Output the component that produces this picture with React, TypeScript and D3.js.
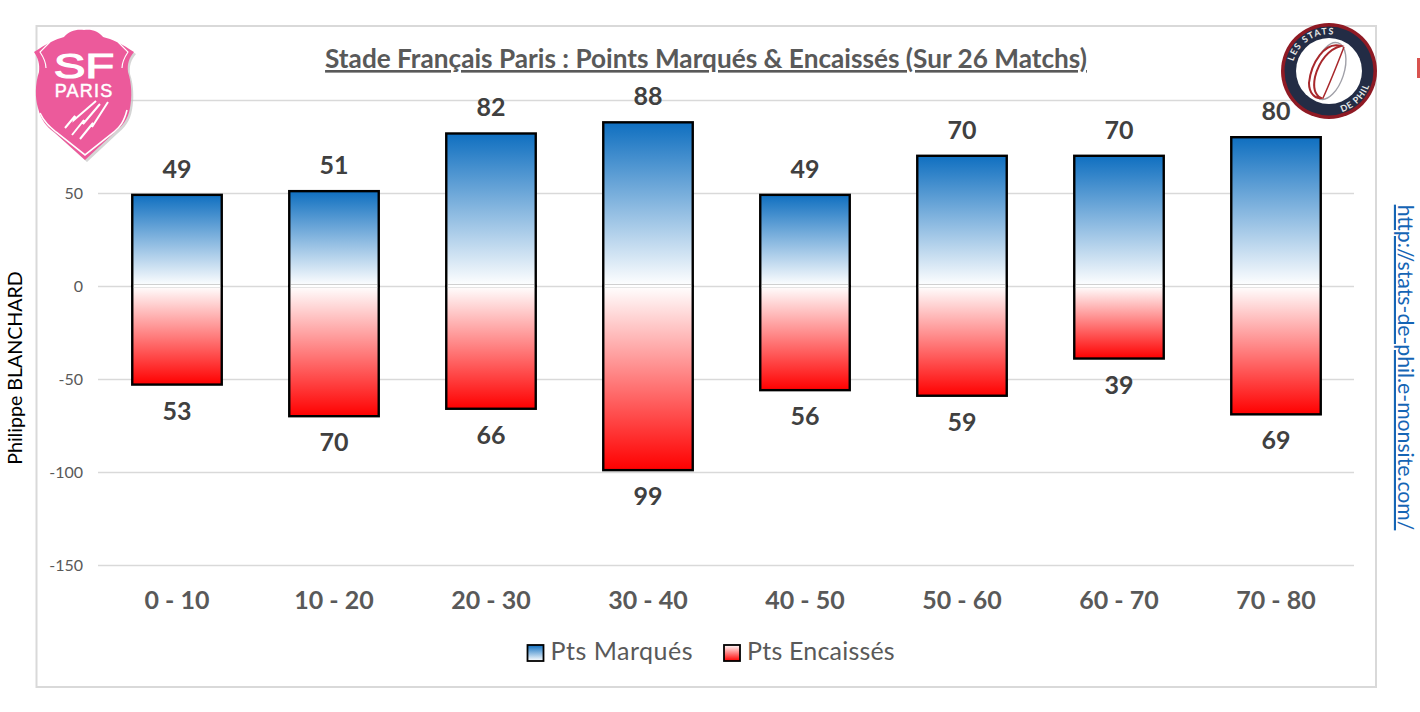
import React, { useEffect, useRef } from 'react';
import * as d3 from 'd3';

const categories = ['0 - 10', '10 - 20', '20 - 30', '30 - 40', '40 - 50', '50 - 60', '60 - 70', '70 - 80'];
const ptsMarques = [49, 51, 82, 88, 49, 70, 70, 80];
const ptsEncaisses = [53, 70, 66, 99, 56, 59, 39, 69];
const yTicks = [-150, -100, -50, 0, 50, 100];
const yTickLabels = ['-150', '-100', '-50', '0', '50', ''];

const font = 'Lato, "Open Sans", sans-serif';

export default function App() {
    const ref = useRef<SVGSVGElement | null>(null);
    useEffect(() => {
        const svg = d3.select(ref.current);
        svg.selectAll('*').remove();
        const width = 1420, height = 712;
        const y = d3.scaleLinear().domain([-150, 100]).range([565, 100]);
        const x = d3.scaleBand().domain(categories).range([98.5, 1354.5]).paddingInner(0.43).paddingOuter(0.215);

        svg.attr('viewBox', `0 0 ${width} ${height}`);
        svg.append('rect').attr('width', width).attr('height', height).attr('fill', '#fff');

        const defs = svg.append('defs');
        const blue = defs.append('linearGradient').attr('id', 'gradBlue').attr('x1', 0).attr('x2', 0).attr('y1', 0).attr('y2', 1);
        blue.append('stop').attr('offset', '0%').attr('stop-color', '#0f6fc0');
        blue.append('stop').attr('offset', '100%').attr('stop-color', '#ffffff');
        const red = defs.append('linearGradient').attr('id', 'gradRed').attr('x1', 0).attr('x2', 0).attr('y1', 0).attr('y2', 1);
        red.append('stop').attr('offset', '0%').attr('stop-color', '#ffffff');
        red.append('stop').attr('offset', '100%').attr('stop-color', '#ff0000');

        // outer frame
        svg.append('rect').attr('x', 36.5).attr('y', 26).attr('width', 1339.5).attr('height', 661)
            .attr('fill', 'none').attr('stroke', '#d9d9d9').attr('stroke-width', 2);

        // grid
        const axis = svg.append('g').attr('transform', 'translate(98,0)')
            .call(d3.axisLeft(y).tickValues(yTicks).tickSize(-1256).tickPadding(15)
                .tickFormat((_, i) => yTickLabels[i]));
        axis.select('.domain').remove();
        axis.selectAll('line').attr('stroke', '#d9d9d9').attr('stroke-width', 1.6);
        axis.selectAll('text').attr('fill', '#595959').attr('font-size', 16).attr('font-family', font);

        // bars
        const bw = x.bandwidth();
        svg.append('g').selectAll('rect').data(categories).join('rect')
            .attr('x', d => x(d)!)
            .attr('y', (_, i) => y(ptsMarques[i]))
            .attr('width', bw)
            .attr('height', (_, i) => y(0) - y(ptsMarques[i]))
            .attr('fill', 'url(#gradBlue)').attr('stroke', '#000').attr('stroke-width', 2.4);
        svg.append('g').selectAll('rect').data(categories).join('rect')
            .attr('x', d => x(d)!)
            .attr('y', y(0))
            .attr('width', bw)
            .attr('height', (_, i) => y(-ptsEncaisses[i]) - y(0))
            .attr('fill', 'url(#gradRed)').attr('stroke', '#000').attr('stroke-width', 2.4);
        // no dark edge where the two bars meet
        svg.append('g').selectAll('line').data(categories).join('line')
            .attr('x1', d => x(d)! + 1.2).attr('x2', d => x(d)! + bw - 1.2)
            .attr('y1', y(0)).attr('y2', y(0))
            .attr('stroke', '#fff').attr('stroke-width', 3);

        // value labels
        const labelStyle = (s: any) => s.attr('text-anchor', 'middle').attr('font-family', font)
            .attr('font-weight', 700).attr('font-size', 25).attr('fill', '#404040');
        svg.append('g').selectAll('text').data(ptsMarques).join('text')
            .attr('x', (_, i) => x(categories[i])! + bw / 2)
            .attr('y', d => y(d) - 17)
            .text(d => d).call(labelStyle);
        svg.append('g').selectAll('text').data(ptsEncaisses).join('text')
            .attr('x', (_, i) => x(categories[i])! + bw / 2)
            .attr('y', d => y(-d) + 35)
            .text(d => d).call(labelStyle);

        // category labels
        svg.append('g').selectAll('text').data(categories).join('text')
            .attr('x', d => x(d)! + bw / 2).attr('y', 609)
            .attr('text-anchor', 'middle').attr('font-family', font).attr('font-weight', 700)
            .attr('font-size', 25).attr('fill', '#595959').text(d => d);

        // title
        svg.append('text').attr('x', 706).attr('y', 68).attr('text-anchor', 'middle')
            .attr('font-family', font).attr('font-weight', 700).attr('font-size', 26.2)
            .attr('fill', '#595959').attr('text-decoration', 'underline')
            .text('Stade Français Paris : Points Marqués & Encaissés (Sur 26 Matchs)');

        // legend
        const legend = svg.append('g');
        [{ t: 'Pts Marqués', g: 'gradBlue', lx: 527.5, ls: 0.5 }, { t: 'Pts Encaissés', g: 'gradRed', lx: 724, ls: 0.2 }].forEach(l => {
            legend.append('rect').attr('x', l.lx).attr('y', 645).attr('width', 16).attr('height', 16)
                .attr('fill', `url(#${l.g})`).attr('stroke', '#000').attr('stroke-width', 1.8);
            legend.append('text').attr('x', l.lx + 23).attr('y', 660).attr('font-family', font)
                .attr('font-size', 25).attr('letter-spacing', l.ls).attr('fill', '#595959').text(l.t);
        });

        // side texts
        svg.append('text').attr('transform', 'translate(22,368) rotate(-90)').attr('text-anchor', 'middle')
            .attr('font-family', font).attr('font-size', 19.6).attr('fill', '#000').text('Philippe BLANCHARD');
        svg.append('text').attr('transform', 'translate(1398,367.5) rotate(90)').attr('text-anchor', 'middle')
            .attr('font-family', font).attr('font-size', 21.2).attr('fill', '#1565b5')
            .attr('text-decoration', 'underline').text('http://stats-de-phil.e-monsite.com/');
        svg.append('rect').attr('x', 1417).attr('y', 58).attr('width', 3).attr('height', 20).attr('fill', '#d9534f');

        // SF Paris badge
        const sf = svg.append('g');
        const shield = 'M84,30 C92,29 98,31 103,37 C112,39 122,44 134,52 C129,58 127,64 128,72 C132,84 132,98 130,108 C128,120 122,126 115,132 L85,160 L54,132 C46,126 41,120 38,108 C35,98 35,84 39,72 C40,64 38,58 34,52 C46,44 56,39 64,37 C69,31 76,29 84,30 Z';
        sf.append('path').attr('d', shield).attr('transform', 'translate(2,2)').attr('fill', '#b9b9b9').attr('opacity', 0.6);
        sf.append('path').attr('d', shield).attr('fill', '#ec5a9b');
        sf.append('path').attr('d', 'M40,113 C44,122 50,127 56,132 L85,155 L114,132 C120,127 124,122 127,110')
            .attr('fill', 'none').attr('stroke', '#fff').attr('stroke-width', 1.6);
        sf.append('path').attr('d', 'M50,42 L40,52 C44,58 46,62 46,68 M118,42 L128,52 C124,58 122,62 122,68')
            .attr('fill', 'none').attr('stroke', '#fff').attr('stroke-width', 1.2);
        sf.append('text').attr('transform', 'translate(84,78) scale(1.32,1)').attr('text-anchor', 'middle')
            .attr('font-family', '"Liberation Sans", sans-serif')
            .attr('font-weight', 400).attr('stroke', '#fff').attr('stroke-width', 1.2).attr('font-size', 36).attr('fill', '#fff').text('SF');
        sf.append('text').attr('x', 84).attr('y', 97).attr('text-anchor', 'middle').attr('font-family', '"Liberation Sans", sans-serif')
            .attr('font-weight', 400).attr('stroke', '#fff').attr('stroke-width', 0.5).attr('font-size', 18).attr('letter-spacing', 1.2).attr('fill', '#fff').text('PARIS');
        ['M65,128 L75,116 L74,120 L96,101', 'M72,135 L84,120 L83,124 L100,104', 'M80,139 L93,123 L92,127 L108,102'].forEach(d => {
            sf.append('path').attr('d', d).attr('stroke', '#fff').attr('stroke-width', 2).attr('fill', 'none');
        });

        // Les stats de Phil badge
        const ph = svg.append('g').attr('transform', 'translate(1329,71)');
        ph.append('circle').attr('r', 48).attr('fill', '#8f1a24');
        ph.append('circle').attr('r', 44.5).attr('fill', '#232c45');
        ph.append('circle').attr('r', 33).attr('fill', '#fff');
        ph.append('ellipse').attr('rx', 15).attr('ry', 29.5).attr('transform', 'rotate(18)')
            .attr('fill', '#fff').attr('stroke', '#a0a0a8').attr('stroke-width', 1.4);
        ph.append('path').attr('d', 'M12,-25 C-4,-30 -18,-8 -20,12 C-20,22 -14,28 -8,27 C-14,24 -16,16 -14,6 C-10,-10 0,-22 12,-25 Z')
            .attr('fill', '#fff').attr('stroke', '#a8282c').attr('stroke-width', 2);
        ph.append('path').attr('d', 'M15,-24 C8,-6 0,14 -6,27').attr('fill', 'none').attr('stroke', '#a8282c').attr('stroke-width', 1.5);
        defs.append('path').attr('id', 'arcTop').attr('d', 'M-35.7,-9.6 A37,37 0 0 1 25,-27');
        defs.append('path').attr('id', 'arcBot').attr('d', 'M13,41 A43,43 0 0 0 43,0');
        ph.append('text').attr('font-family', font).attr('font-size', 9).attr('font-weight', 700)
            .attr('letter-spacing', 1.2).attr('fill', '#e8e8e8')
            .append('textPath').attr('href', '#arcTop').text('LES STATS');
        ph.append('text').attr('font-family', font).attr('font-size', 9).attr('font-weight', 700)
            .attr('letter-spacing', 0.8).attr('fill', '#e8e8e8')
            .append('textPath').attr('href', '#arcBot').text('DE PHIL');
    }, []);
    return <svg ref={ref} width={1420} height={712} style={{ position: 'absolute', left: 0, top: 0, display: 'block' }} />;
}
